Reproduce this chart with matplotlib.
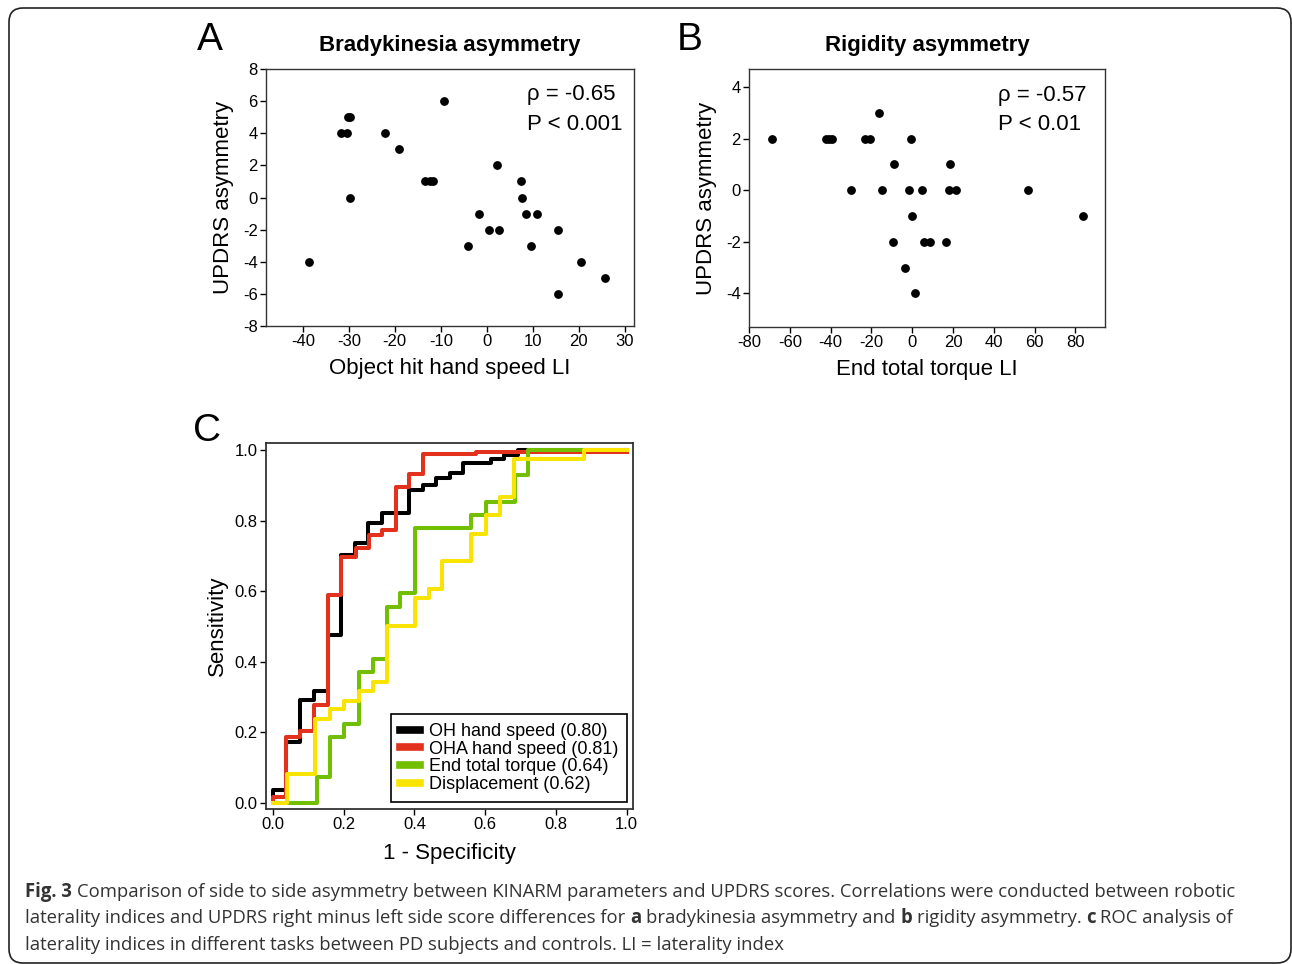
import matplotlib
matplotlib.use('Agg')
import matplotlib.pyplot as plt
from matplotlib.patches import FancyBboxPatch
from matplotlib.transforms import IdentityTransform

plt.rcParams['font.family'] = ['Liberation Sans', 'DejaVu Sans']
plt.rcParams['axes.unicode_minus'] = False

# panel A: bradykinesia asymmetry vs object hit hand speed LI
brady_li = [-38.7, -31.8, -30.5, -30.2, -29.8, -29.8, -22.1, -19.0, -13.5, -12.4,
            -11.7, -9.3, -4.1, -1.7, 0.5, 2.6, 2.3, 7.4, 7.7, 8.6, 11.0, 9.6,
            15.4, 15.4, 20.4, 25.7]
brady_updrs = [-4, 4, 4, 5, 5, 0, 4, 3, 1, 1, 1, 6, -3, -1, -2, -2, 2, 1, 0, -1, -1, -3,
               -2, -6, -4, -5]

# panel B: rigidity asymmetry vs end total torque LI
rigid_li = [-68.9, -42.1, -40.8, -39.5, -23.2, -20.6, -0.8, -16.5, -9.0, 18.6,
            -30.2, -15.0, -1.6, 4.7, 18.0, 21.6, 56.8, -0.3, 83.6, -9.6, 5.7, 8.5,
            16.5, -3.3, 1.3]
rigid_updrs = [2, 2, 2, 2, 2, 2, 2, 3, 1, 1, 0, 0, 0, 0, 0, 0, 0, -1, -1, -2, -2, -2,
               -2, -3, -4]

# panel C: ROC curves (fpr, tpr vertices, step 'post')
oh_fpr = [0, 0, 0.036, 0.077, 0.115, 0.156, 0.193, 0.231, 0.269, 0.309, 0.384, 0.425,
          0.46, 0.50, 0.538, 0.616, 0.654, 0.693, 1.0]
oh_tpr = [0, 0.036, 0.171, 0.291, 0.317, 0.475, 0.702, 0.735, 0.794, 0.822, 0.888, 0.901,
          0.922, 0.934, 0.964, 0.976, 0.986, 1.0, 1.0]
oha_fpr = [0, 0, 0.036, 0.077, 0.115, 0.156, 0.193, 0.234, 0.271, 0.309, 0.347, 0.384,
           0.423, 0.575, 1.0]
oha_tpr = [0, 0.017, 0.187, 0.203, 0.277, 0.589, 0.698, 0.721, 0.759, 0.773, 0.896, 0.931,
           0.989, 0.994, 0.994]
torque_fpr = [0, 0.123, 0.162, 0.201, 0.242, 0.283, 0.321, 0.360, 0.401, 0.561, 0.601,
              0.684, 0.720, 1.0]
torque_tpr = [0, 0.074, 0.187, 0.222, 0.371, 0.406, 0.556, 0.594, 0.778, 0.816, 0.853,
              0.929, 1.0, 1.0]
disp_fpr = [0, 0.04, 0.120, 0.160, 0.201, 0.242, 0.283, 0.323, 0.401, 0.442, 0.478,
            0.561, 0.601, 0.642, 0.681, 0.880, 1.0]
disp_tpr = [0, 0.080, 0.237, 0.265, 0.289, 0.317, 0.343, 0.501, 0.579, 0.606, 0.686,
            0.761, 0.816, 0.868, 0.974, 1.0, 1.0]
roc_labels = ['OH hand speed (0.80)', 'OHA hand speed (0.81)',
              'End total torque (0.64)', 'Displacement (0.62)']
roc_colors = ['#000000', '#e2311d', '#71bf00', '#f9e300']

W, H = 1292, 964
fig = plt.figure(figsize=(W / 100, H / 100), dpi=100)


def box(l, t, r, b):
    return [l / W, 1 - b / H, (r - l) / W, (b - t) / H]


def style(ax, lw=1.0):
    for s in ax.spines.values():
        s.set_color('#333333')
        s.set_linewidth(lw)
    ax.tick_params(direction='out', length=4, width=1, labelsize=12, pad=2)


# A
axA = fig.add_axes(box(266, 69, 634, 326))
axA.plot(brady_li, brady_updrs, 'o', color='black', markersize=5.3)
axA.set_xlim(-48, 32)
axA.set_ylim(-8, 8)
axA.set_xticks(range(-40, 31, 10))
axA.set_yticks(range(-8, 9, 2))
axA.set_xlabel('Object hit hand speed LI', fontsize=16, labelpad=6)
axA.set_ylabel('UPDRS asymmetry', fontsize=16, labelpad=6)
axA.set_title('Bradykinesia asymmetry', fontsize=16, fontweight='bold', pad=13)
axA.text(0.709, 0.899, 'ρ = -0.65', transform=axA.transAxes, fontsize=16, va='center')
axA.text(0.709, 0.784, 'P < 0.001', transform=axA.transAxes, fontsize=16, va='center')
style(axA)

# B
axB = fig.add_axes(box(749, 69, 1105, 327))
axB.plot(rigid_li, rigid_updrs, 'o', color='black', markersize=5.3)
axB.set_xlim(-80, 94.5)
axB.set_ylim(-5.3, 4.7)
axB.set_xticks(range(-80, 81, 20))
axB.set_yticks(range(-4, 5, 2))
axB.set_xlabel('End total torque LI', fontsize=16, labelpad=6)
axB.set_ylabel('UPDRS asymmetry', fontsize=16, labelpad=6)
axB.set_title('Rigidity asymmetry', fontsize=16, fontweight='bold', pad=13)
axB.text(0.699, 0.899, 'ρ = -0.57', transform=axB.transAxes, fontsize=16, va='center')
axB.text(0.699, 0.784, 'P < 0.01', transform=axB.transAxes, fontsize=16, va='center')
style(axB)

# C
axC = fig.add_axes(box(266, 443, 633, 809))
curves = [(oh_fpr, oh_tpr), (oha_fpr, oha_tpr), (torque_fpr, torque_tpr), (disp_fpr, disp_tpr)]
for (fx, ty), lab, col in zip(curves, roc_labels, roc_colors):
    axC.step(fx, ty, where='post', color=col, lw=2.9, label=lab)
axC.set_xlim(-0.02, 1.018)
axC.set_ylim(-0.018, 1.02)
axC.set_xticks([0, 0.2, 0.4, 0.6, 0.8, 1.0])
axC.set_yticks([0, 0.2, 0.4, 0.6, 0.8, 1.0])
axC.set_xticklabels(['0.0', '0.2', '0.4', '0.6', '0.8', '1.0'])
axC.set_yticklabels(['0.0', '0.2', '0.4', '0.6', '0.8', '1.0'])
axC.set_xlabel('1 - Specificity', fontsize=16, labelpad=8)
axC.set_ylabel('Sensitivity', fontsize=16, labelpad=5)
style(axC, lw=1.3)
leg = axC.legend(loc='lower right', bbox_to_anchor=(0.984, 0.019), borderaxespad=0,
                 fontsize=13, fancybox=False, edgecolor='black', framealpha=1,
                 handlelength=1.1, handletextpad=0.5, labelspacing=0.04, borderpad=0.5)
leg.get_frame().set_linewidth(1.2)
for ln in leg.get_lines():
    ln.set_linewidth(5.5)

# panel letters
for lab, x, y in [('A', 210, 40), ('B', 690, 40), ('C', 207, 431)]:
    fig.text(x / W, 1 - y / H, lab, fontsize=28, ha='center', va='center')

# caption
cap_size = 13.35
cap_color = '#333333'
r = fig.canvas.get_renderer()


def width(s, bold=False):
    t = fig.text(0, 0, s, fontsize=cap_size, family='Open Sans',
                 fontweight='bold' if bold else 'normal')
    w = t.get_window_extent(r).width
    t.remove()
    return w


gap = width('x x') - width('xx')


def caption_line(y_px, parts):
    x = 25
    for s, bold in parts:
        t = fig.text(x / W, 1 - y_px / H, s, fontsize=cap_size, family='Open Sans',
                     fontweight='bold' if bold else 'normal', color=cap_color,
                     ha='left', va='center')
        x += t.get_window_extent(r).width + gap


caption_line(892, [('Fig. 3', True),
                   ('Comparison of side to side asymmetry between KINARM parameters and UPDRS '
                    'scores. Correlations were conducted between robotic', False)])
caption_line(918, [('laterality indices and UPDRS right minus left side score differences for', False),
                   ('a', True), ('bradykinesia asymmetry and', False), ('b', True),
                   ('rigidity asymmetry.', False), ('c', True), ('ROC analysis of', False)])
caption_line(945, [('laterality indices in different tasks between PD subjects and controls. '
                    'LI = laterality index', False)])

# rounded border
border = FancyBboxPatch((9, 1), 1282, 955, boxstyle='round,pad=0,rounding_size=14',
                        transform=IdentityTransform(), fill=False, ec='#222222', lw=1.2)
fig.add_artist(border)

fig.savefig('out.png', dpi=100)
